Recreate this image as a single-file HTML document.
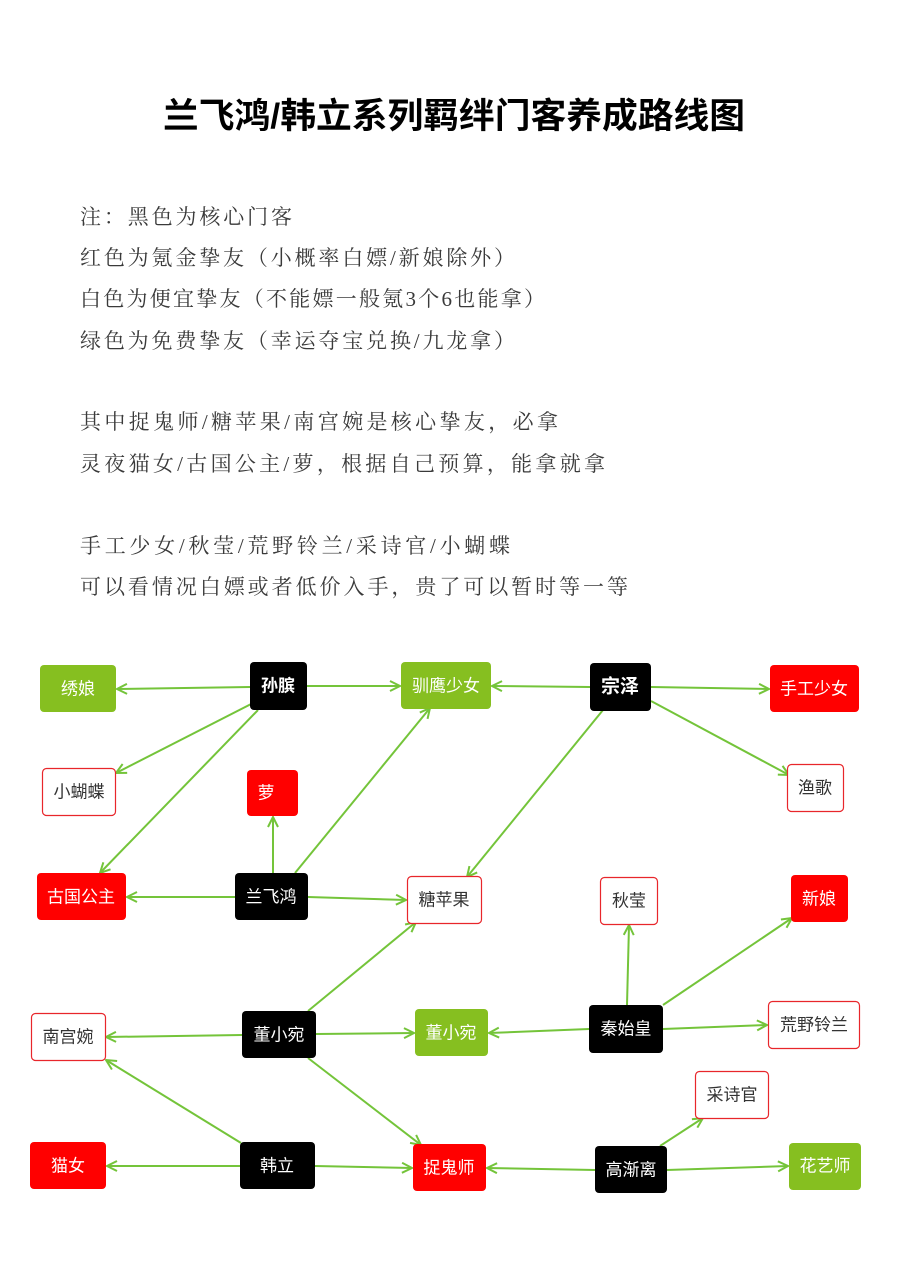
<!DOCTYPE html>
<html><head><meta charset="utf-8"><style>
html,body{margin:0;padding:0;background:#fff;}
svg{display:block;}
.n{font-family:"Liberation Sans","Noto Sans CJK SC",sans-serif;font-size:17px;text-anchor:middle;dominant-baseline:central;}
.t{font-family:"Liberation Serif","Noto Serif CJK SC",serif;font-size:21px;fill:#3a3a3a;}
</style></head><body>
<svg width="904" height="1265" viewBox="0 0 904 1265" xmlns="http://www.w3.org/2000/svg">
<defs>
<marker id="a" viewBox="0 0 12 12" refX="11" refY="6" markerWidth="12" markerHeight="12" markerUnits="userSpaceOnUse" orient="auto">
<polyline points="1,1 11,6 1,11" fill="none" stroke="#74c43a" stroke-width="2"/>
</marker>
</defs>
<text x="163" y="128" textLength="582" lengthAdjust="spacingAndGlyphs" style="font-family:'Liberation Sans','Noto Sans CJK SC',sans-serif;font-size:35px;font-weight:bold;fill:#000">兰飞鸿/韩立系列羁绊门客养成路线图</text>
<g class="t">
<text x="80" y="224" textLength="212">注：黑色为核心门客</text>
<text x="80" y="265" textLength="435">红色为氪金挚友（小概率白嫖/新娘除外）</text>
<text x="80" y="306" textLength="465">白色为便宜挚友（不能嫖一般氪3个6也能拿）</text>
<text x="80" y="348" textLength="435">绿色为免费挚友（幸运夺宝兑换/九龙拿）</text>
<text x="80" y="429" textLength="478">其中捉鬼师/糖苹果/南宫婉是核心挚友，必拿</text>
<text x="80" y="471" textLength="525">灵夜猫女/古国公主/萝，根据自己预算，能拿就拿</text>
<text x="80" y="553" textLength="430">手工少女/秋莹/荒野铃兰/采诗官/小蝴蝶</text>
<text x="80" y="594" textLength="548">可以看情况白嫖或者低价入手，贵了可以暂时等一等</text>
</g>
<g stroke="#74c43a" stroke-width="2" fill="none" marker-end="url(#a)">
<line x1="250" y1="687" x2="117" y2="689"/>
<line x1="307" y1="686" x2="400" y2="686"/>
<line x1="255" y1="702" x2="116" y2="773"/>
<line x1="258" y1="710" x2="100" y2="873"/>
<line x1="590" y1="687" x2="492" y2="686"/>
<line x1="651" y1="687" x2="769" y2="689"/>
<line x1="651" y1="701" x2="789" y2="775"/>
<line x1="603" y1="710" x2="467" y2="877"/>
<line x1="273" y1="873" x2="273" y2="817"/>
<line x1="295" y1="873" x2="430" y2="708"/>
<line x1="235" y1="897" x2="127" y2="897"/>
<line x1="308" y1="897" x2="406" y2="900"/>
<line x1="308" y1="1011" x2="416" y2="922"/>
<line x1="242" y1="1035" x2="106" y2="1037"/>
<line x1="316" y1="1034" x2="414" y2="1033"/>
<line x1="308" y1="1058" x2="421" y2="1145"/>
<line x1="589" y1="1029" x2="489" y2="1033"/>
<line x1="627" y1="1005" x2="629" y2="925"/>
<line x1="663" y1="1005" x2="792" y2="918"/>
<line x1="663" y1="1029" x2="767" y2="1025"/>
<line x1="241" y1="1143" x2="106" y2="1060"/>
<line x1="240" y1="1166" x2="107" y2="1166"/>
<line x1="315" y1="1166" x2="412" y2="1168"/>
<line x1="595" y1="1170" x2="487" y2="1168"/>
<line x1="660" y1="1146" x2="703" y2="1118"/>
<line x1="667" y1="1170" x2="788" y2="1166"/>
</g>
<g>
<!-- green -->
<rect x="40" y="665" width="76" height="47" rx="4" fill="#86bf20"/>
<rect x="401" y="662" width="90" height="47" rx="4" fill="#86bf20"/>
<rect x="415" y="1009" width="73" height="47" rx="4" fill="#86bf20"/>
<rect x="789" y="1143" width="72" height="47" rx="4" fill="#86bf20"/>
<!-- black -->
<rect x="250" y="662" width="57" height="48" rx="4" fill="#000"/>
<rect x="590" y="663" width="61" height="48" rx="4" fill="#000"/>
<rect x="235" y="873" width="73" height="47" rx="4" fill="#000"/>
<rect x="242" y="1011" width="74" height="47" rx="4" fill="#000"/>
<rect x="589" y="1005" width="74" height="48" rx="4" fill="#000"/>
<rect x="240" y="1142" width="75" height="47" rx="4" fill="#000"/>
<rect x="595" y="1146" width="72" height="47" rx="4" fill="#000"/>
<!-- red -->
<rect x="770" y="665" width="89" height="47" rx="4" fill="#ff0000"/>
<rect x="247" y="770" width="51" height="46" rx="4" fill="#ff0000"/>
<rect x="37" y="873" width="89" height="47" rx="4" fill="#ff0000"/>
<rect x="791" y="875" width="57" height="47" rx="4" fill="#ff0000"/>
<rect x="30" y="1142" width="76" height="47" rx="4" fill="#ff0000"/>
<rect x="413" y="1144" width="73" height="47" rx="4" fill="#ff0000"/>
<!-- white -->
<g fill="#fff" stroke="#e8262b" stroke-width="1.2">
<rect x="42.5" y="768.5" width="73" height="47" rx="4"/>
<rect x="787.5" y="764.5" width="56" height="47" rx="4"/>
<rect x="407.5" y="876.5" width="74" height="47" rx="4"/>
<rect x="600.5" y="877.5" width="57" height="47" rx="4"/>
<rect x="31.5" y="1013.5" width="74" height="47" rx="4"/>
<rect x="768.5" y="1001.5" width="91" height="47" rx="4"/>
<rect x="695.5" y="1071.5" width="73" height="47" rx="4"/>
</g>
</g>
<g class="n" fill="#fff">
<text x="78" y="689">绣娘</text>
<text x="278" y="686" font-weight="bold">孙膑</text>
<text x="446" y="686">驯鹰少女</text>
<text x="620" y="687" font-weight="bold" font-size="19">宗泽</text>
<text x="814" y="689">手工少女</text>
<text x="266" y="793">萝</text>
<text x="81" y="897">古国公主</text>
<text x="271" y="897">兰飞鸿</text>
<text x="819" y="899">新娘</text>
<text x="279" y="1035">董小宛</text>
<text x="451" y="1033">董小宛</text>
<text x="626" y="1029">秦始皇</text>
<text x="68" y="1166">猫女</text>
<text x="277" y="1166">韩立</text>
<text x="449" y="1168">捉鬼师</text>
<text x="631" y="1170">高渐离</text>
<text x="825" y="1166">花艺师</text>
</g>
<g class="n" fill="#333" font-size="16">
<text x="79" y="792">小蝴蝶</text>
<text x="815" y="788">渔歌</text>
<text x="444" y="900">糖苹果</text>
<text x="629" y="901">秋莹</text>
<text x="68" y="1037">南宫婉</text>
<text x="814" y="1025">荒野铃兰</text>
<text x="732" y="1095">采诗官</text>
</g>
</svg>
</body></html>
